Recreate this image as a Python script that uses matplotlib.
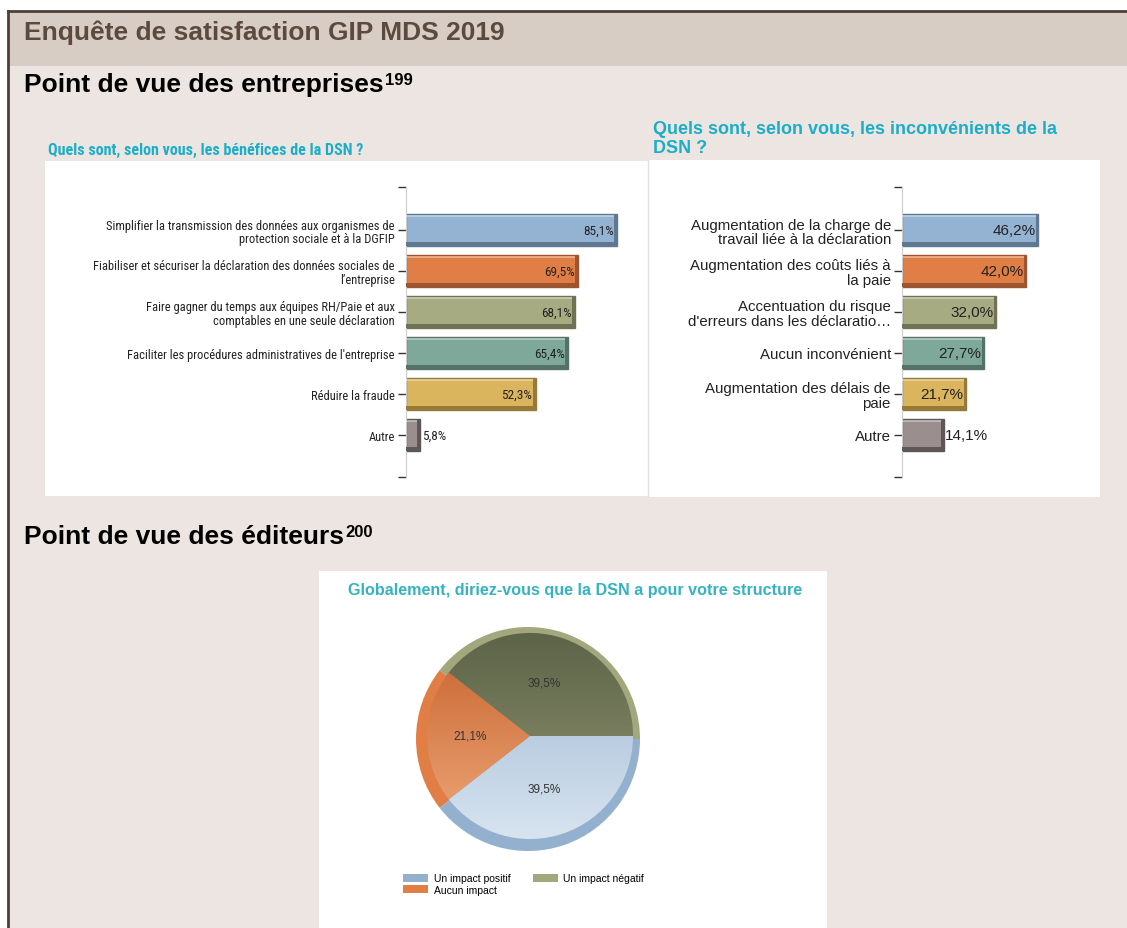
import matplotlib
matplotlib.use("Agg")
import matplotlib.pyplot as plt
from matplotlib.patches import Rectangle
from matplotlib.colors import LinearSegmentedColormap
import numpy as np

###################################################################
# DATA
benef_cats = [
    "Simplifier la transmission des données aux organismes de\nprotection sociale et à la DGFIP",
    "Fiabiliser et sécuriser la déclaration des données sociales de\nl’entreprise",
    "Faire gagner du temps aux équipes RH/Paie et aux\ncomptables en une seule déclaration",
    "Faciliter les procédures administratives de l'entreprise",
    "Réduire la fraude",
    "Autre",
]
benef_vals = [85.1, 69.5, 68.1, 65.4, 52.3, 5.8]

incon_cats = [
    "Augmentation de la charge de\ntravail liée à la déclaration",
    "Augmentation des coûts liés à\nla paie",
    "Accentuation du risque\nd'erreurs dans les déclaratio…",
    "Aucun inconvénient",
    "Augmentation des délais de\npaie",
    "Autre",
]
incon_vals = [46.2, 42.0, 32.0, 27.7, 21.7, 14.1]

pie_labels = ["Un impact positif", "Aucun impact", "Un impact négatif"]
pie_vals = [39.5, 21.1, 39.5]
###################################################################

W, H = 1127, 929
BODY = "#ede5e1"
HEAD = "#d8cdc5"
FRAME = "#4f3f35"
CYAN = "#1aaec9"
NARROW = ["Roboto Condensed", "Archivo Narrow", "DejaVu Sans"]
SANS = ["Liberation Sans", "DejaVu Sans"]

bar_face = ["#94b3d3", "#e07e45", "#a6ab82", "#7ea89a", "#dbb45e", "#9a8f8e"]
bar_edge = ["#5f7890", "#9c5530", "#6f7354", "#557268", "#97793a", "#5f5757"]

pie_rim = ["#94b0cf", "#e07e45", "#a3a77e"]
pie_top = ["#9ab5d2", "#c4602a", "#5b6246"]
pie_bot = ["#dbe6f1", "#f2ad80", "#959a76"]

fig = plt.figure(figsize=(W / 100, H / 100), dpi=100, facecolor="white")


def px_axes(x0, y0, x1, y1):
    return fig.add_axes([x0 / W, 1 - y1 / H, (x1 - x0) / W, (y1 - y0) / H])


# background drawing layer in pixel coordinates
bg = fig.add_axes([0, 0, 1, 1])
bg.set_xlim(0, W)
bg.set_ylim(H, 0)
bg.axis("off")
bg.add_patch(Rectangle((8, 12), W - 8, H - 12, color=BODY, lw=0))
bg.add_patch(Rectangle((8, 12), W - 8, 55, color=HEAD, lw=0))
bg.plot([8, 8], [12, H], color=FRAME, lw=2)
bg.plot([8, W], [12, 12], color=FRAME, lw=2)

# white panels
bg.add_patch(Rectangle((45, 162), 603, 335, color="white", lw=0))
bg.add_patch(Rectangle((648, 161), 452, 337, color="white", lw=0))
bg.plot([648, 648], [161, 498], color="#e4e0de", lw=1)
bg.add_patch(Rectangle((319, 572), 508, 357, color="white", lw=0))

bg.text(24, 33, "Enquête de satisfaction GIP MDS 2019", family=SANS, weight="bold",
        fontsize=19, color="#5b4a3e", va="center")


def heading(x, y, s, sup):
    t = bg.text(x, y, s, family=SANS, weight="bold", fontsize=19, color="black", va="center")
    bg.annotate(sup, xy=(1, 1), xycoords=t, xytext=(1, 0), textcoords="offset points",
                family=SANS, weight="bold", fontsize=12, va="top", ha="left")


heading(24, 85, "Point de vue des entreprises", "199")
heading(24, 537, "Point de vue des éditeurs", "200")

bg.text(48, 150, "Quels sont, selon vous, les bénéfices de la DSN ?", family=NARROW,
        weight="bold", fontsize=11.5, color=CYAN, va="center")
bg.text(653, 139, "Quels sont, selon vous, les inconvénients de la\nDSN ?", family=SANS,
        weight="bold", fontsize=13, color=CYAN, va="center", linespacing=1.15)


def bar_chart(ax, cats, vals, xmax, font, size, vsize):
    y = np.arange(len(cats))
    h = 0.78
    ax.barh(y, vals, height=h, color=bar_face, edgecolor=bar_edge, linewidth=1.0, zorder=2)
    # bevel: dark bottom and right edges, light top edge
    ax.barh(y + h / 2 - 0.05, vals, height=0.1, color=bar_edge, lw=0, zorder=3)
    ax.barh(y, [xmax * 0.012] * len(vals), left=np.array(vals) - xmax * 0.012,
            height=h, color=bar_edge, lw=0, zorder=3)
    ax.barh(y - h / 2 + 0.05, np.array(vals) - xmax * 0.012, height=0.06,
            color="white", alpha=0.35, lw=0, zorder=3)
    for i, v in enumerate(vals):
        lab = f"{v:.1f}".replace(".", ",") + "%"
        if v > 20:
            ax.text(v - xmax * 0.014, i, lab, ha="right", va="center", family=font,
                    fontsize=vsize, color="#222222", zorder=4)
        else:
            ax.text(v + xmax * 0.008, i, lab, ha="left", va="center", family=font,
                    fontsize=vsize, color="#222222", zorder=4)
    ax.set_xlim(0, xmax)
    ax.set_ylim(6.03, -1.05)
    ax.set_yticks(y)
    ax.set_yticklabels(cats, family=font, fontsize=size, color="#222222")
    for t in ax.get_yticklabels():
        t.set_linespacing(1.05)
    ax.set_yticks([-1.05, 6.03], minor=True)
    ax.tick_params(axis="y", which="both", length=6, width=1, color="#333333", pad=2)
    ax.set_xticks([])
    for s in ["top", "right", "bottom"]:
        ax.spines[s].set_visible(False)
    ax.spines["left"].set_color("#cccccc")
    ax.patch.set_alpha(0)


ax1 = px_axes(406, 188, 654, 478)
bar_chart(ax1, benef_cats, benef_vals, 100, NARROW, 9, 9.5)

ax2 = px_axes(902, 188, 1079, 478)
bar_chart(ax2, incon_cats, incon_vals, 60, SANS, 10.8, 11)

# pie
bg.text(575, 591, "Globalement, diriez-vous que la DSN a pour votre structure", family=SANS,
        fontsize=11.6, color="#35b3c1", ha="center", va="center", weight="bold")

ax3 = px_axes(416, 628, 640, 852)
wedges, _ = ax3.pie(pie_vals, colors=pie_rim, startangle=0, counterclock=False,
                    radius=1.0, wedgeprops=dict(lw=0))
inner, _ = ax3.pie(pie_vals, colors=pie_rim, startangle=0, counterclock=False,
                   radius=0.92, center=(0.018, 0.027), wedgeprops=dict(lw=0))
grad = np.linspace(0, 1, 256).reshape(-1, 1)
for w, c0, c1 in zip(inner, pie_top, pie_bot):
    cmap = LinearSegmentedColormap.from_list("g", [c0, c1])
    im = ax3.imshow(grad, cmap=cmap, extent=(-1, 1, -1, 1), origin="upper",
                    aspect="auto", zorder=3)
    im.set_clip_path(w)
ang = np.cumsum([0] + pie_vals) / 100 * 360
for i, v in enumerate(pie_vals):
    mid = -np.deg2rad((ang[i] + ang[i + 1]) / 2)
    r = 0.5
    ax3.text(r * np.cos(mid) - 0.02, r * np.sin(mid) + 0.03, f"{v:.1f}".replace(".", ",") + "%",
             ha="center", va="center", fontsize=8.5, color="#333333", family=SANS, zorder=5)
ax3.set_xlim(-1, 1)
ax3.set_ylim(-1, 1)
ax3.set_aspect("equal")
ax3.axis("off")

ax3.legend(wedges, pie_labels, loc="upper left", bbox_to_anchor=(394 / W, 1 - 865 / H),
           bbox_transform=fig.transFigure, ncol=2, frameon=False,
           handlelength=2.4, handleheight=0.8, columnspacing=2.2, labelspacing=0.15,
           handletextpad=0.5, prop=dict(family=SANS, size=7.5))

fig.savefig("out.png", dpi=100, facecolor="white")
